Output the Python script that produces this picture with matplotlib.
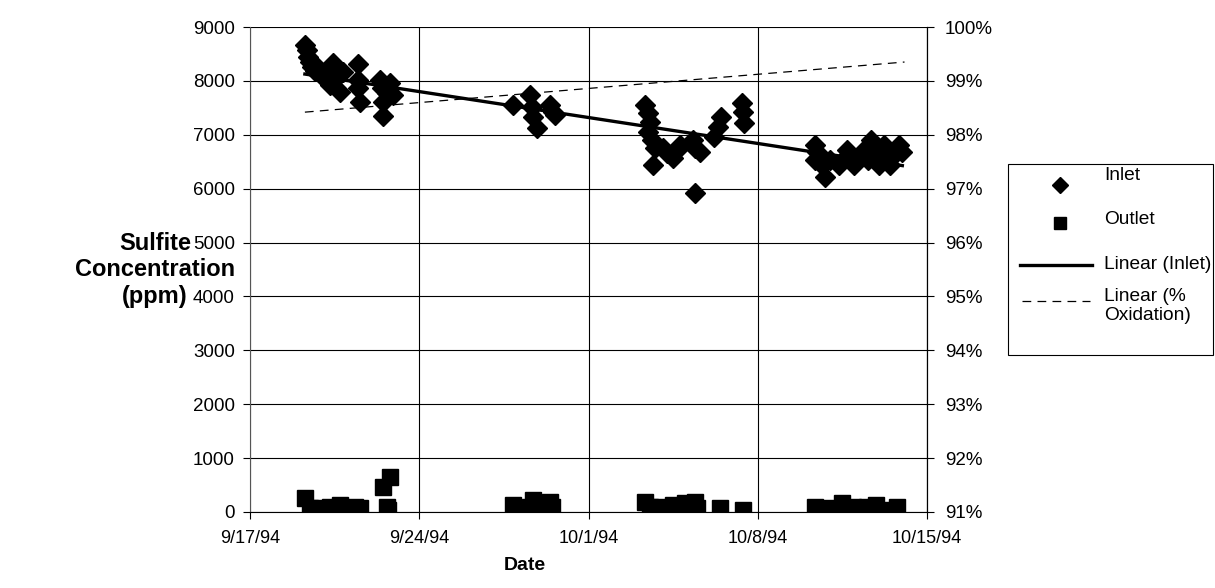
import matplotlib
matplotlib.use("Agg")
import matplotlib.pyplot as plt
from matplotlib.lines import Line2D
from matplotlib.patches import Rectangle
from matplotlib.ticker import FuncFormatter, MultipleLocator
import numpy as np
import pandas as pd

plt.rcParams['font.family'] = ['Liberation Sans', 'DejaVu Sans']

base_date = pd.Timestamp("1994-09-17")

# Inlet sulfite: days since 9/17/94 and ppm
inlet_days = [2.27, 2.36, 2.40, 2.48, 2.56, 2.69, 2.81, 2.98, 3.43, 3.39, 3.60, 3.84, 3.31, 3.72,
              4.46, 4.46, 4.46, 4.55, 5.37, 5.45, 5.79, 5.66, 5.50, 5.91, 5.50,
              10.87, 11.57, 11.65, 11.69, 11.86, 12.40, 12.52, 12.60,
              16.32, 16.45, 16.53, 16.45, 16.61, 16.74, 16.65, 17.07, 17.23, 17.48, 17.64, 17.77,
              18.31, 18.39, 18.60, 18.39, 19.21, 19.34, 19.50, 20.33, 20.37, 20.45,
              23.35, 23.47, 23.35, 23.64, 23.80, 23.97, 24.38, 24.59, 24.71, 25.00, 25.21, 25.41,
              25.70, 25.83, 25.95, 25.54, 26.24, 26.03, 26.65, 26.86, 26.98, 26.45, 26.78]
inlet_ppm = [8660, 8570, 8440, 8350, 8260, 8180, 8240, 8100, 8330, 8140, 8070, 8160, 7920, 7790,
             8310, 8010, 7870, 7610, 8020, 7870, 7960, 7770, 7610, 7740, 7350,
             7550, 7740, 7510, 7330, 7120, 7550, 7420, 7370,
             7550, 7400, 7240, 7050, 6900, 6750, 6440, 6750, 6660, 6570, 6720, 6810,
             6900, 6750, 6680, 5920, 6960, 7140, 7330, 7590, 7420, 7220,
             6810, 6680, 6530, 6440, 6220, 6530, 6440, 6570, 6720, 6440, 6620, 6720,
             6900, 6720, 6570, 6530, 6810, 6440, 6620, 6810, 6680, 6440, 6720]

# Outlet sulfite
outlet_days = [2.27, 2.48, 2.89, 3.31, 3.72, 4.34, 4.55, 5.50, 5.79, 5.66, 5.70,
               10.87, 11.57, 11.69, 11.98, 12.40, 12.48,
               16.32, 16.53, 16.94, 17.48, 17.98, 18.39, 18.47, 19.42, 20.37,
               23.35, 23.84, 24.50, 24.92, 25.50, 25.91, 26.32, 26.74]
outlet_ppm = [260, 75, 75, 90, 130, 90, 75, 460, 650, 90, 40,
              130, 90, 220, 170, 185, 90,
              185, 90, 90, 130, 170, 185, 75, 75, 40,
              90, 75, 165, 90, 90, 130, 40, 90]

# Linear trend of % oxidation (start and end of the fitted line)
oxid_trend_days = [2.27, 27.07]
oxid_trend_pct = [0.9842, 0.9935]

x_tick_labels = ["9/17/94", "9/24/94", "10/1/94", "10/8/94", "10/15/94"]
legend_labels = ["Inlet", "Outlet", "Linear (Inlet)", "Linear (%\nOxidation)"]
ylabel_lines = ["Sulfite", "Concentration", "(ppm)"]

def to_dates(days):
    return base_date + pd.to_timedelta(np.asarray(days), unit="D")

W, H = 1215, 588
bg = "#ffffff"
fig = plt.figure(figsize=(W / 100, H / 100), dpi=100, facecolor=bg)
ax = fig.add_axes([250/W, 76/H, 677/W, 485/H])
ax.set_facecolor(bg)

inlet_dates = to_dates(inlet_days)
outlet_dates = to_dates(outlet_days)

ax.plot(inlet_dates, inlet_ppm, linestyle='none', marker='D', markersize=10,
        color='black', zorder=3)
ax.plot(outlet_dates, outlet_ppm, linestyle='none', marker='s', markersize=11,
        color='black', zorder=3)

# Linear trendline for inlet
d = np.asarray(inlet_days)
coef = np.polyfit(d, np.asarray(inlet_ppm, dtype=float), 1)
tx = np.array([d.min(), d.max()])
ax.plot(to_dates(tx), np.polyval(coef, tx), color='black', lw=2.4, zorder=4)

ax.set_xlim(base_date, base_date + pd.Timedelta(days=28))
ax.set_ylim(0, 9000)
ticks = [base_date + pd.Timedelta(days=7 * i) for i in range(5)]
ax.set_xticks(ticks)
ax.set_xticklabels(x_tick_labels)
ax.yaxis.set_major_locator(MultipleLocator(1000))
ax.grid(True, color='black', lw=0.8)
ax.set_axisbelow(True)
ax.spines['top'].set_visible(False)
ax.spines['left'].set_color('#555555')
ax.spines['bottom'].set_color('black')
ax.spines['right'].set_color('black')
ax.tick_params(axis='x', labelsize=13, length=5, width=0.8, pad=8)
ax.tick_params(axis='y', labelsize=13.5, length=5, width=0.8, pad=6)

ax2 = ax.twinx()
ax2.set_ylim(0.91, 1.00)
ax2.yaxis.set_major_locator(MultipleLocator(0.01))
ax2.yaxis.set_major_formatter(FuncFormatter(lambda v, p: f"{v*100:.0f}%"))
ax2.plot(to_dates(oxid_trend_days), oxid_trend_pct, color='black', lw=0.9,
         linestyle=(0, (7, 5)))
ax2.tick_params(axis='y', labelsize=13.5, length=5, width=0.8, pad=8)
ax2.spines['top'].set_visible(False)
ax2.spines['left'].set_visible(False)
ax2.spines['bottom'].set_visible(False)

def fx(px):
    return px / W

def fy(py):
    return 1 - py / H

for lab, yy in zip(ylabel_lines, [243, 270, 297]):
    fig.text(fx(155), fy(yy), lab, ha='center', va='center', fontsize=17,
             fontweight='bold')
fig.text(fx(525), fy(566), "Date", ha='center', va='center', fontsize=14,
         fontweight='bold')

# Legend box
fig.add_artist(Rectangle((fx(1008), fy(355)), fx(1213) - fx(1008), fy(164) - fy(355),
                         transform=fig.transFigure, fill=False, edgecolor='black', lw=0.8))
fig.add_artist(Line2D([fx(1060)], [fy(185)], transform=fig.transFigure, linestyle='none',
                      marker='D', markersize=8, color='black'))
fig.add_artist(Line2D([fx(1060)], [fy(223)], transform=fig.transFigure, linestyle='none',
                      marker='s', markersize=8.5, color='black'))
fig.add_artist(Line2D([fx(1020), fx(1092)], [fy(265), fy(265)], transform=fig.transFigure,
                      color='black', lw=2.4))
fig.add_artist(Line2D([fx(1022), fx(1090)], [fy(301), fy(301)], transform=fig.transFigure,
                      color='black', lw=0.9, linestyle=(0, (7, 5))))
legend_y = [176, 219, 264, 306]
for lab, yy in zip(legend_labels, legend_y):
    fig.text(fx(1104), fy(yy), lab, ha='left', va='center', fontsize=13.8, linespacing=1.2)

fig.savefig("out.png", dpi=100, facecolor=bg)
